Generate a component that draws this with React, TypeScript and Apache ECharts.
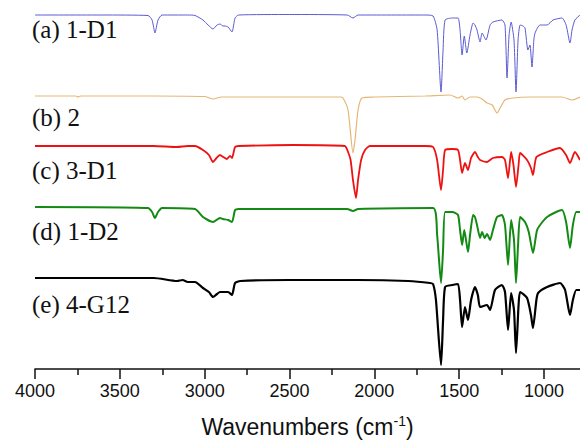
import React, { useEffect, useRef } from "react";
import * as echarts from "echarts";

// wavenumber (cm-1) vs. offset transmittance (a.u.)
const labels = ["(a) 1-D1", "(b) 2", "(c) 3-D1", "(d) 1-D2", "(e) 4-G12"];
const labelY = [31, 119, 172, 233, 306];
const colors = ["#5b5bd4", "#e6b676", "#ee1111", "#138a13", "#000000"];
const widths = [1, 1.2, 1.8, 2, 2.2];
const xMajor = [4000, 3500, 3000, 2500, 2000, 1500, 1000];
const xMinor = [3750, 3250, 2750, 2250, 1750, 1250];

const traceA: [number, number][] = [
  [4000, 354], [3600, 354], [3334, 353.5], [3310, 349], [3293, 336], [3275, 349], [3251, 354],
  [3100, 354], [3057, 353.5], [3010, 349], [2980, 344], [2951, 340], [2927, 344], [2910, 345],
  [2892, 343], [2880, 343], [2862, 342], [2839, 337], [2821, 351], [2800, 354], [2500, 354.5],
  [2160, 354], [2126, 351], [2096, 354], [1700, 354], [1654, 353], [1630, 339], [1607, 277],
  [1595, 319], [1583, 349], [1540, 351], [1507, 351], [1495, 339], [1483, 314], [1470, 333],
  [1455, 316], [1436, 334], [1418, 346], [1407, 344], [1395, 339], [1377, 327], [1365, 336],
  [1342, 329], [1318, 344], [1301, 347], [1248, 349], [1230, 344], [1218, 291], [1206, 334],
  [1194, 347], [1177, 329], [1165, 277], [1153, 329], [1141, 344], [1124, 343], [1112, 341],
  [1095, 319], [1083, 324], [1071, 302], [1060, 329], [1053, 336], [1024, 344], [982, 344],
  [947, 349], [894, 351], [870, 344], [847, 326], [835, 339], [818, 349], [788, 354],
];

const traceB: [number, number][] = [
  [4000, 273], [3760, 273], [3747, 272], [3730, 273], [3300, 273], [3000, 272.5], [2951, 270],
  [2900, 272], [2500, 272], [2200, 272], [2185, 271], [2155, 259], [2126, 216], [2114, 229],
  [2096, 259], [2073, 271], [2000, 272], [1700, 273], [1554, 274], [1507, 271], [1483, 273],
  [1466, 269], [1436, 272], [1395, 272], [1365, 270], [1336, 266], [1305, 264], [1277, 256],
  [1259, 261], [1230, 269], [1183, 271], [1083, 272], [894, 272], [835, 269], [788, 272],
];

const traceC: [number, number][] = [
  [4000, 223], [3300, 223], [3163, 222], [3100, 223], [3057, 223], [3010, 219], [2975, 214],
  [2951, 207], [2930, 211], [2910, 214], [2890, 212], [2870, 210], [2850, 213], [2839, 211],
  [2821, 222], [2800, 223], [2480, 224], [2174, 223], [2155, 217], [2140, 209], [2126, 189],
  [2108, 171], [2096, 189], [2078, 209], [2055, 219], [2026, 223], [1700, 223], [1654, 222],
  [1630, 209], [1607, 179], [1595, 199], [1583, 219], [1540, 220], [1507, 219], [1495, 209],
  [1483, 196], [1466, 206], [1448, 199], [1430, 211], [1407, 217], [1390, 212], [1377, 209],
  [1336, 207], [1301, 211], [1248, 212], [1230, 209], [1212, 191], [1194, 217], [1180, 204],
  [1165, 182], [1150, 204], [1141, 216], [1100, 209], [1077, 201], [1065, 194], [1045, 212],
  [982, 217], [906, 221], [870, 214], [847, 206], [818, 217], [788, 209],
];

const traceD: [number, number][] = [
  [4000, 162], [3334, 161], [3310, 157], [3293, 151], [3275, 157], [3251, 161], [3057, 160],
  [3010, 152], [2951, 147], [2910, 151], [2892, 150], [2862, 149], [2839, 147], [2821, 159],
  [2800, 160], [2160, 160], [2126, 158], [2096, 160], [1654, 161], [1630, 134], [1607, 86],
  [1595, 119], [1583, 157], [1540, 157], [1507, 154], [1495, 139], [1483, 124], [1470, 139],
  [1448, 117], [1436, 134], [1418, 154], [1407, 152], [1395, 144], [1377, 131], [1365, 137],
  [1350, 131], [1336, 135], [1318, 129], [1301, 139], [1277, 152], [1248, 154], [1230, 144],
  [1212, 104], [1194, 149], [1177, 129], [1165, 86], [1153, 124], [1141, 152], [1112, 147],
  [1090, 137], [1065, 116], [1041, 139], [1010, 147], [982, 152], [929, 157], [894, 159],
  [870, 147], [847, 121], [830, 144], [810, 157], [788, 157],
];

const traceE: [number, number][] = [
  [4000, 91], [3300, 91], [3163, 88], [3130, 89], [3100, 87], [3057, 87], [3010, 81], [2975, 77],
  [2951, 72], [2927, 75], [2910, 77], [2880, 77], [2862, 77], [2839, 74], [2821, 86], [2790, 88],
  [2500, 89], [2100, 89], [1800, 88], [1672, 86], [1654, 85], [1637, 69], [1607, 4], [1595, 49],
  [1583, 82], [1540, 84], [1507, 85], [1495, 69], [1483, 42], [1466, 62], [1448, 49], [1430, 69],
  [1407, 82], [1390, 74], [1377, 62], [1336, 64], [1318, 59], [1289, 79], [1248, 84], [1230, 77],
  [1212, 39], [1194, 76], [1177, 59], [1165, 16], [1150, 64], [1141, 77], [1100, 71], [1077, 54],
  [1065, 41], [1045, 69], [1035, 76], [982, 82], [906, 86], [876, 79], [847, 54], [830, 69],
  [810, 79], [788, 79],
];

const traces = [traceA, traceB, traceC, traceD, traceE];

export default function App() {
  const ref = useRef<HTMLDivElement>(null);
  useEffect(() => {
    if (!ref.current) return;
    const chart = echarts.init(ref.current, null, { renderer: "svg" });
    const sans = "'Liberation Sans', Arial, sans-serif";
    const serif = "'Liberation Serif', 'Times New Roman', serif";
    chart.setOption({
      animation: false,
      backgroundColor: "#ffffff",
      grid: { left: 35, right: 0, top: 0, bottom: 75, containLabel: false, outerBoundsMode: "none" },
      xAxis: [
        {
          type: "value",
          min: 788,
          max: 4000,
          inverse: true,
          position: "bottom",
          splitLine: { show: false },
          axisLine: { show: true, onZero: false, lineStyle: { color: "#111", width: 1.5 } },
          axisTick: { show: true, customValues: xMajor, length: 10, lineStyle: { color: "#111", width: 1.5 } },
          axisLabel: {
            customValues: xMajor,
            formatter: (v: number) => String(v),
            margin: 13,
            color: "#111",
            fontSize: 18,
            fontFamily: sans,
          },
          name: "Wavenumbers (cm{sup|-1})",
          nameLocation: "middle",
          nameGap: 45,
          nameTextStyle: {
            fontSize: 23,
            fontFamily: sans,
            color: "#111",
            rich: {
              sup: { fontSize: 14, fontFamily: sans, color: "#111", padding: [0, 0, 12, 0] },
            },
          },
        },
        {
          type: "value",
          min: 788,
          max: 4000,
          inverse: true,
          position: "bottom",
          splitLine: { show: false },
          axisLine: { show: false, onZero: false },
          axisTick: { show: true, customValues: xMinor, length: 6, lineStyle: { color: "#111", width: 1.5 } },
          axisLabel: { show: false },
        },
      ],
      yAxis: { type: "value", min: 0, max: 369, show: false },
      graphic: labels.map((t, i) => ({
        type: "text",
        left: 32,
        top: labelY[i] - 14,
        style: { text: t, font: `25px ${serif}`, fill: "#111" },
      })),
      series: traces.map((d, i) => ({
        type: "line",
        data: d,
        xAxisIndex: 0,
        showSymbol: false,
        smooth: 0.2,
        lineStyle: { color: colors[i], width: widths[i] },
        silent: true,
      })),
    });
    return () => chart.dispose();
  }, []);
  return <div ref={ref} style={{ position: "fixed", left: 0, top: 0, width: 580, height: 444 }} />;
}
